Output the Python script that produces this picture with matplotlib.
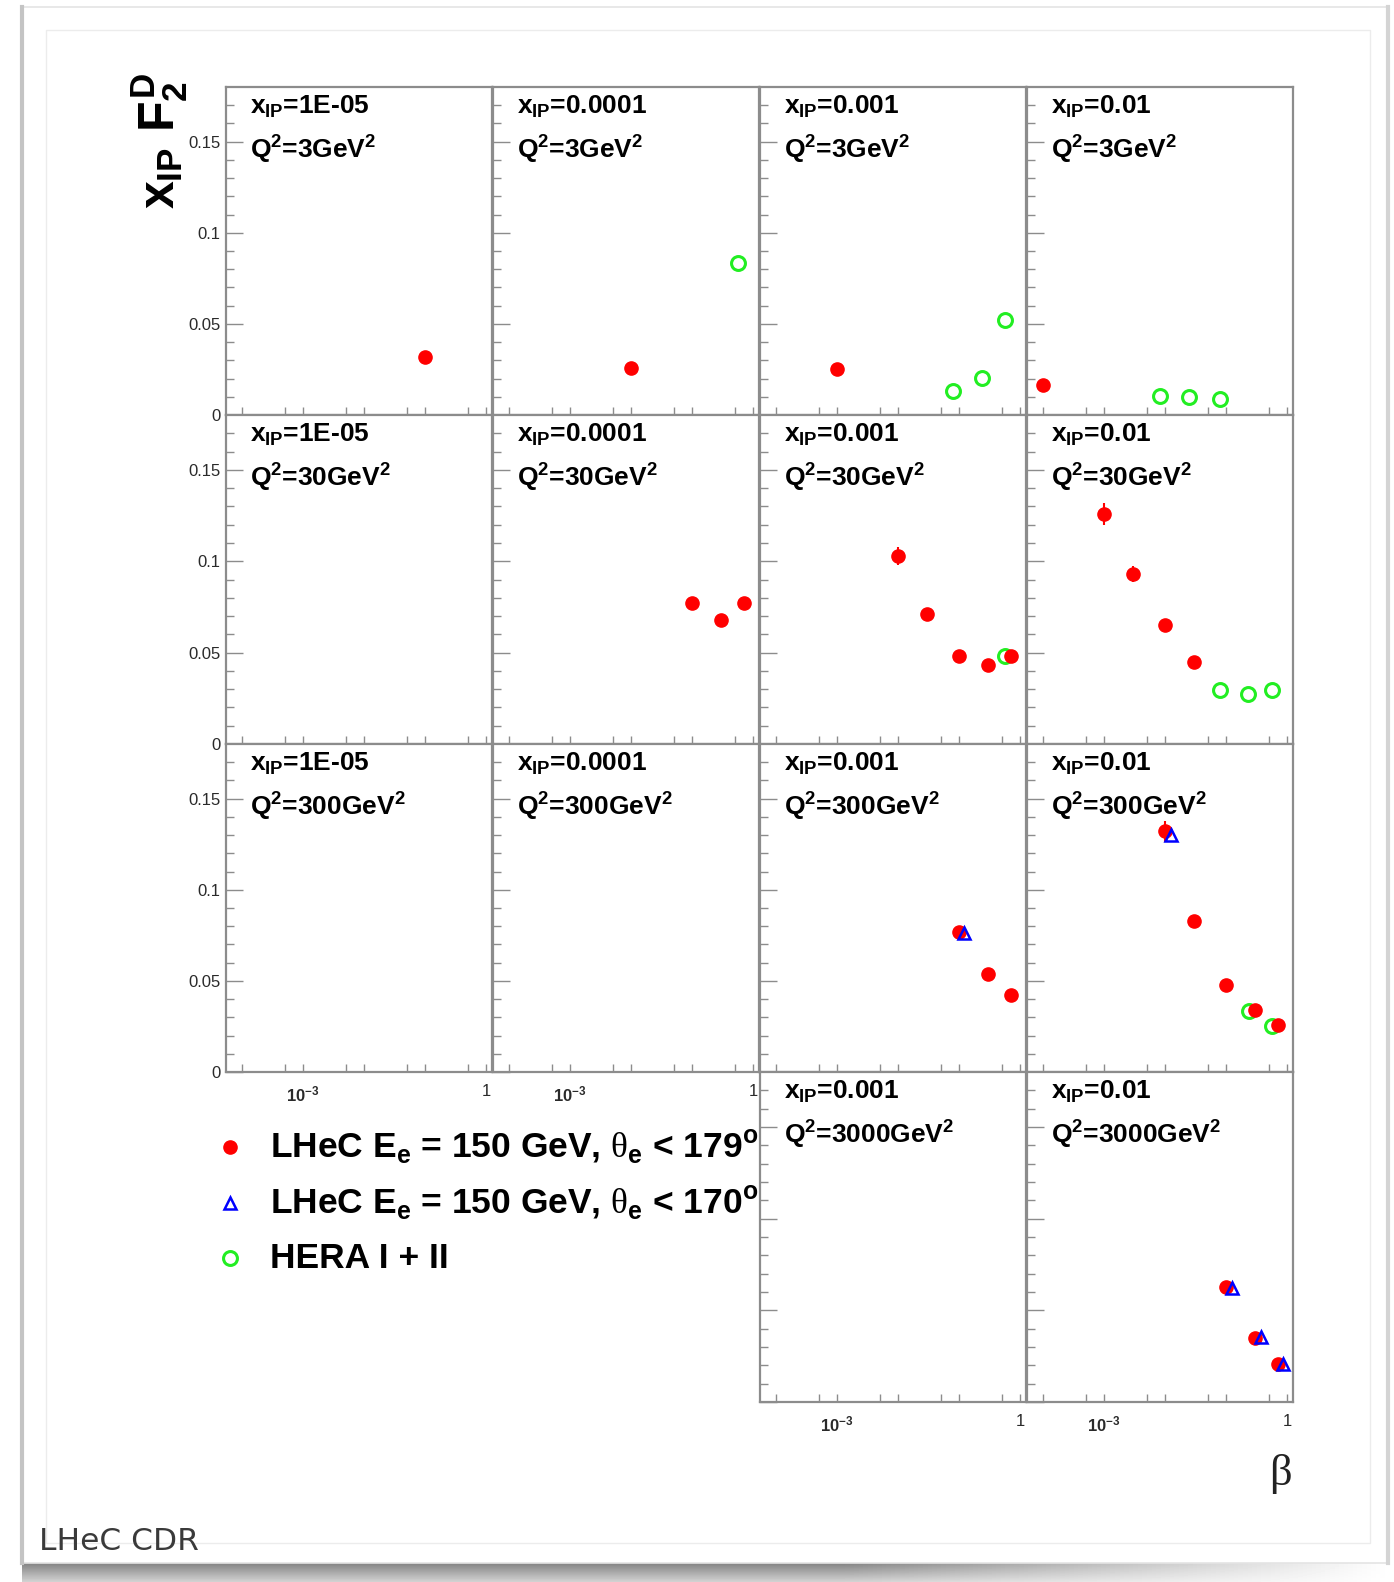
import matplotlib
matplotlib.use("Agg")
import matplotlib.pyplot as plt
import numpy as np
from matplotlib.patches import Rectangle
from matplotlib.ticker import FixedLocator, NullFormatter

plt.rcParams["font.family"] = ["Liberation Sans", "DejaVu Sans"]
plt.rcParams["mathtext.fontset"] = "custom"
plt.rcParams["mathtext.rm"] = "Liberation Sans:bold"
plt.rcParams["mathtext.it"] = "Liberation Sans:bold"
plt.rcParams["mathtext.bf"] = "Liberation Sans:bold"
plt.rcParams["mathtext.sf"] = "Liberation Serif"

# panel labels: columns are x_IP bins, rows are Q^2 bins
xpom_labels = ["1E-05", "0.0001", "0.001", "0.01"]
q2_labels = ["3", "30", "300", "3000"]

# LHeC Ee = 150 GeV, theta_e < 179 deg
lhec179_row = [0, 0, 0, 0,
               1, 1, 1, 1, 1, 1, 1, 1, 1, 1, 1, 1,
               2, 2, 2, 2, 2, 2, 2, 2,
               3, 3, 3]
lhec179_col = [0, 1, 2, 3,
               1, 1, 1, 2, 2, 2, 2, 2, 3, 3, 3, 3,
               2, 2, 2, 3, 3, 3, 3, 3,
               3, 3, 3]
lhec179_beta = [0.1, 0.01, 0.001, 0.0001,
                0.1, 0.3, 0.7, 0.01, 0.03, 0.1, 0.3, 0.7, 0.001, 0.003, 0.01, 0.03,
                0.1, 0.3, 0.7, 0.01, 0.03, 0.1, 0.3, 0.7,
                0.1, 0.3, 0.7]
lhec179_f2 = [0.032, 0.026, 0.025, 0.0165,
              0.077, 0.068, 0.077, 0.103, 0.071, 0.048, 0.043, 0.048, 0.126, 0.093, 0.065, 0.045,
              0.077, 0.054, 0.042, 0.132, 0.083, 0.048, 0.034, 0.026,
              0.063, 0.035, 0.021]
lhec179_err = [0.001, 0.001, 0.001, 0.001,
               0.002, 0.002, 0.002, 0.005, 0.002, 0.001, 0.001, 0.001, 0.006, 0.0045, 0.002, 0.001,
               0.002, 0.001, 0.001, 0.006, 0.002, 0.001, 0.001, 0.001,
               0.002, 0.001, 0.001]

# LHeC Ee = 150 GeV, theta_e < 170 deg
lhec170_row = [2, 2, 3, 3, 3]
lhec170_col = [2, 3, 3, 3, 3]
lhec170_beta = [0.122, 0.0124, 0.127, 0.37, 0.86]
lhec170_f2 = [0.0763, 0.130, 0.0622, 0.0355, 0.0207]

# HERA I + II
hera_row = [0, 0, 0, 0, 0, 0, 0, 1, 1, 1, 1, 2, 2]
hera_col = [1, 2, 2, 2, 3, 3, 3, 2, 3, 3, 3, 3, 3]
hera_beta = [0.57, 0.081, 0.242, 0.57, 0.0082, 0.0244, 0.081, 0.57, 0.081, 0.23, 0.56, 0.24, 0.57]
hera_f2 = [0.0834, 0.0132, 0.0203, 0.052, 0.0104, 0.0099, 0.0088, 0.048, 0.0298, 0.0271, 0.0298, 0.0335, 0.0252]

W, H = 1394, 1582
fig = plt.figure(figsize=(W / 100, H / 100), dpi=100)

# background card with shadow
bg = fig.add_axes([0, 0, 1, 1], zorder=-1)
bg.set_xlim(0, W)
bg.set_ylim(H, 0)
bg.axis("off")
shade = np.linspace(0.5, 0.82, 20)[:, None] * np.ones((1, 300))
fade = np.clip(np.linspace(2.5, 0.0, 300), 0, 1)
shade = 1 - (1 - shade) * fade[None, :]
bg.imshow(shade, cmap="gray", vmin=0, vmax=1, extent=[22, W, H, 1562], aspect="auto")
bg.add_patch(Rectangle((22, 7), 1366, 1556, facecolor="white", edgecolor="#e4e4e4", lw=1.2))
bg.plot([22, 22], [7, 1563], color="#c4c4c4", lw=3)
bg.plot([1388, 1388], [7, 1563], color="#d4d4d4", lw=3)
bg.add_patch(Rectangle((46, 30), 1324, 1513, fill=False, edgecolor="#ececec", lw=1))

gray = "#8c8c8c"
col_left = [226, 493, 760, 1027]
col_w = 266
row_top = [87, 415, 744, 1072]
row_bot = [415, 744, 1072, 1402]

r179 = np.array(lhec179_row); c179 = np.array(lhec179_col)
r170 = np.array(lhec170_row); c170 = np.array(lhec170_col)
rh = np.array(hera_row); ch = np.array(hera_col)
b179 = np.array(lhec179_beta); f179 = np.array(lhec179_f2); e179 = np.array(lhec179_err)
b170 = np.array(lhec170_beta); f170 = np.array(lhec170_f2)
bh = np.array(hera_beta); fh = np.array(hera_f2)

for r in range(4):
    for c in range(4):
        if r == 3 and c < 2:
            continue
        t, b = row_top[r], row_bot[r]
        ax = fig.add_axes([col_left[c] / W, 1 - b / H, col_w / W, (b - t) / H])
        ax.set_xscale("log")
        ax.set_xlim(5.5e-5, 1.25)
        ax.set_ylim(0, 0.18)
        for s in ax.spines.values():
            s.set_color(gray)
            s.set_linewidth(1.6)
        ax.yaxis.set_major_locator(FixedLocator([0, 0.05, 0.1, 0.15]))
        ax.yaxis.set_minor_locator(FixedLocator(np.arange(0.01, 0.18, 0.01)))
        ax.xaxis.set_major_locator(FixedLocator([1e-4, 1e-3, 1e-2, 1e-1, 1]))
        ax.xaxis.set_minor_locator(FixedLocator([5e-5, 5e-4, 5e-3, 5e-2, 0.5]))
        ax.xaxis.set_minor_formatter(NullFormatter())
        ax.yaxis.set_minor_formatter(NullFormatter())
        ax.tick_params(which="both", direction="in", color=gray, width=1,
                       labelsize=12, labelcolor="#2a2a2a")
        ax.tick_params(axis="y", which="major", length=12, pad=4)
        ax.tick_params(axis="y", which="minor", length=6)
        ax.tick_params(axis="x", which="both", length=6, pad=9)
        if c == 0:
            ax.set_yticklabels(["0", "0.05", "0.1", "0.15"])
        else:
            ax.set_yticklabels([])
        if (r == 2 and c < 2) or r == 3:
            ax.set_xticklabels(["", "$10^{-3}$", "", "", "1"])
        else:
            ax.set_xticklabels([])

        m = (rh == r) & (ch == c)
        ax.plot(bh[m], fh[m], "o", ms=10, mfc="none", mec="#22ee22", mew=2.2, zorder=2)
        m = (r179 == r) & (c179 == c)
        if m.any():
            ax.errorbar(b179[m], f179[m], yerr=e179[m], fmt="o", color="red", ms=9.5,
                        elinewidth=1.5, capsize=0, zorder=3)
        m = (r170 == r) & (c170 == c)
        ax.plot(b170[m], f170[m], "^", ms=9, mfc="none", mec="blue", mew=1.8, zorder=4)

        ax.text(0.09, 1 - 27 / (b - t), "$x_{IP}$=" + xpom_labels[c], transform=ax.transAxes,
                fontsize=19, fontweight="bold", va="baseline", ha="left")
        ax.text(0.09, 1 - 72 / (b - t), "Q$^{2}$=" + q2_labels[r] + "GeV$^{2}$",
                transform=ax.transAxes, fontsize=19, fontweight="bold", va="baseline", ha="left")

# overlay for titles and legend
ov = fig.add_axes([0, 0, 1, 1], zorder=5)
ov.set_xlim(0, W)
ov.set_ylim(H, 0)
ov.axis("off")
ov.patch.set_alpha(0)

ov.text(160, 141, r"$x_{IP}\ F_{2}^{D}$", rotation=90, fontsize=36, ha="center", va="center")
ov.text(1280, 1474, "β", family="Liberation Serif", fontsize=32, ha="center", va="center",
        color="#222222")
ov.text(39, 1550, "LHeC CDR", family="DejaVu Sans", fontsize=22.5, color="#3a3a3a",
        ha="left", va="baseline")

leg_y = [1147, 1203, 1258]
ov.plot([230], [leg_y[0]], "o", color="red", ms=9.5)
ov.plot([230], [leg_y[1]], "^", ms=9, mfc="none", mec="blue", mew=1.8)
ov.plot([230], [leg_y[2]], "o", ms=10, mfc="none", mec="#22ee22", mew=2.2)
ov.text(270, leg_y[0], r"LHeC E$_{e}$ = 150 GeV, $\mathsf{\theta}_{e}$ < 179$^{o}$",
        fontsize=25.5, fontweight="bold", va="center", ha="left")
ov.text(270, leg_y[1], r"LHeC E$_{e}$ = 150 GeV, $\mathsf{\theta}_{e}$ < 170$^{o}$",
        fontsize=25.5, fontweight="bold", va="center", ha="left")
ov.text(270, leg_y[2], "HERA I + II", fontsize=25.5, fontweight="bold", va="center", ha="left")

fig.savefig("out.png", dpi=100)
